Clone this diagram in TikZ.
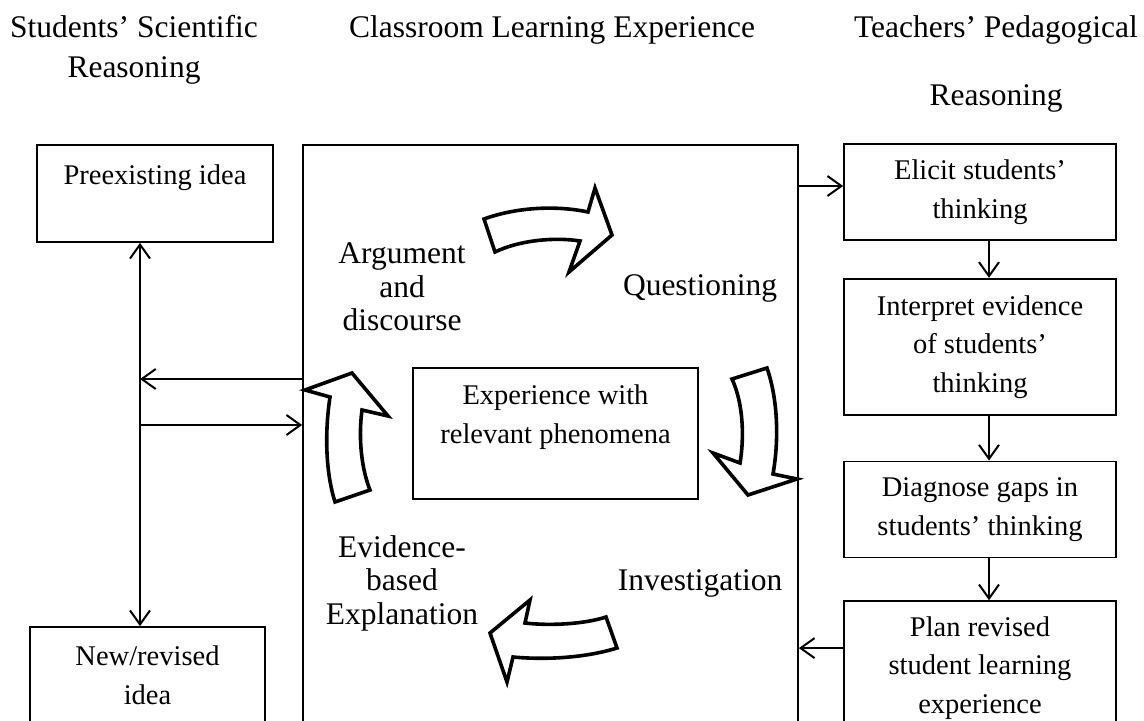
\documentclass[tikz,border=0pt]{standalone}
\usepackage{fontspec}
\setmainfont{Liberation Serif}
\usetikzlibrary{positioning, arrows.meta}

\begin{document}
\begin{tikzpicture}[
x=0.5pt, y=-0.5pt,
>={Straight Barb[length=7pt, width=10pt]},
every node/.style={align=center, font=\fontsize{14.25}{19.25}\selectfont},
boxstyle/.style={draw, line width=0.85pt, minimum width=136pt, inner sep=0pt},
head/.style={font=\fontsize{15.75}{20}\selectfont},
phase/.style={font=\fontsize{15.75}{16.75}\selectfont},
link/.style={line width=1pt, ->},
turn/.style={draw, line width=1.8pt, line join=miter}
]
\useasboundingbox (0,0) rectangle (1144,721);
\clip (0,0) rectangle (1144,721);
% Headings
\node[head] (hstud) at (134,50) {Students’ Scientific\\Reasoning};
\node[head] (hclass) at (552,30) {Classroom Learning Experience};
\node[head] (hteach) at (996,64) {Teachers’ Pedagogical\\[14pt]Reasoning};
% Students' side
\node[boxstyle, minimum width=118pt, minimum height=48.5pt] (pre) at (155,193.5) {Preexisting idea\\\mbox{}};
\node[boxstyle, minimum width=117.5pt, minimum height=48pt] (new) at (147.5,675) {New/revised\\idea};
\coordinate (toidea) at (140,379);
\coordinate (fromidea) at (140,425);
% Classroom
\node[boxstyle, minimum width=247.5pt, minimum height=320pt] (class) at (550.5,465) {};
\node[boxstyle, minimum width=142.5pt, minimum height=65.5pt] (exp) at (555.5,433.5) {Experience with\\relevant phenomena\\\mbox{}};
\node[phase] (arg) at (402,287) {Argument\\and\\discourse};
\node[phase] (quest) at (700,288) {Questioning};
\node[phase] (inv) at (700,583) {Investigation};
\node[phase] (evid) at (402,583) {Evidence-\\based\\Explanation};
% Teachers' side
\node[boxstyle, minimum height=48pt] (elicit) at (980,192) {Elicit students’\\thinking};
\node[boxstyle, minimum height=68pt, below=18.5pt of elicit] (interp) {Interpret evidence\\of students’\\thinking};
\node[boxstyle, minimum height=48pt, below=22.5pt of interp] (diag) {Diagnose gaps in\\students’ thinking};
\node[boxstyle, minimum height=67pt, below=21pt of diag] (plan) {Plan revised\\student learning\\experience};
\coordinate (replan) at ([yshift=10pt]plan.west);
% Cycle arrows
\draw[turn] (484,219) .. controls (520,206) and (560,206) .. (588,212) -- (595,188) -- (612,235) -- (569,272) -- (580,241) .. controls (555,237) and (520,240) .. (495,252) -- cycle;
\draw[turn] (732,379) .. controls (744,405) and (744,440) .. (740,463) -- (713,453) -- (748,495) -- (797,479) -- (773,474) .. controls (779,440) and (778,400) .. (767,368) -- cycle;
\draw[turn] (606,617) .. controls (585,624) and (550,626) .. (525,623) -- (530,600) -- (490,633) -- (507,682) -- (513,657) .. controls (545,660) and (585,658) .. (617,648) -- cycle;
\draw[turn] (335,502) .. controls (325,470) and (325,430) .. (330,397) -- (305,390) -- (352,373) -- (388,416) -- (362,410) .. controls (358,440) and (362,470) .. (370,490) -- cycle;
% Connectors
\draw[link, <->] (pre.south -| toidea) -- (new.north -| toidea);
\draw[link] (class.west |- toidea) -- (toidea);
\draw[link] (fromidea) -- (class.west |- fromidea);
\draw[link] ([yshift=3pt]class.east |- elicit.west) -- ([yshift=3pt]elicit.west);
\draw[link] ([xshift=4.5pt]elicit.south) -- ([xshift=4.5pt]interp.north);
\draw[link] ([xshift=4.5pt]interp.south) -- ([xshift=4.5pt]diag.north);
\draw[link] ([xshift=4.5pt]diag.south) -- ([xshift=4.5pt]plan.north);
\draw[link] (replan) -- (class.east |- replan);
\end{tikzpicture}
\end{document}
